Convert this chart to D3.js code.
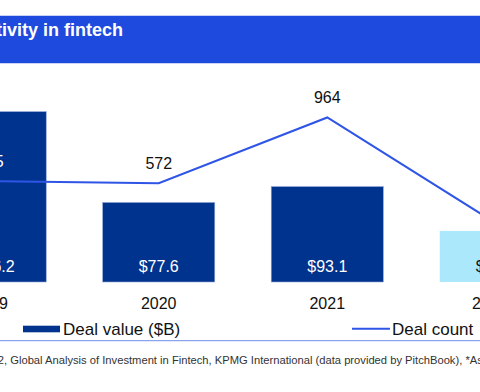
<!DOCTYPE html>
<html>
<head>
<meta charset="utf-8">
<script src="https://cdn.jsdelivr.net/npm/d3@7"></script>
<style>
  body { margin: 0; background: #fff; }
  svg { display: block; font-family: "Liberation Sans", Arial, sans-serif; }
</style>
</head>
<body>
<svg width="480" height="392"></svg>
<script>
"use strict";

const years = ["2019", "2020", "2021", "2022"];
const dealValue = [166.2, 77.6, 93.1, 49.8];
const dealCount = [585, 572, 964, 335];
const valueLabels = ["$166.2", "$77.6", "$93.1", "$49.8"];

const title = "Deal activity in fintech";
const sourcePrefix = "Source: Pulse of Fintech H2'22";
const sourceText = ", Global Analysis of Investment in Fintech, KPMG International (data provided by PitchBook), *As of 31 December 2022.";

const svg = d3.select("svg");
const width = +svg.attr("width");

const navy = "#00338d";
const lineBlue = "#2f55e6";

// header band
svg.append("rect")
  .attr("x", 0).attr("y", 15)
  .attr("width", width).attr("height", 49)
  .attr("fill", "#c9d4f5");
svg.append("rect")
  .attr("x", 0).attr("y", 16)
  .attr("width", width).attr("height", 47)
  .attr("fill", "#1e4bdd");
svg.append("text")
  .attr("x", 123).attr("y", 36)
  .attr("text-anchor", "end")
  .attr("fill", "#fff")
  .attr("font-weight", "bold")
  .attr("font-size", 18)
  .text(title);

// x positions: band centres 168.5 px apart, 2020 centred at 159
const xScale = d3.scaleBand()
  .domain(years)
  .range([-94, 580])
  .paddingInner(0.335)
  .paddingOuter(0.167);

const yBar = d3.scaleLinear().domain([0, 200]).range([282, 77]);
const yLine = d3.scaleLinear().domain([0, 1000]).range([279.4, 111.4]);

const g = svg.append("g");

g.selectAll("rect.bar")
  .data(years)
  .enter()
  .append("rect")
  .attr("class", "bar")
  .attr("x", d => xScale(d))
  .attr("y", (d, i) => yBar(dealValue[i]))
  .attr("width", xScale.bandwidth())
  .attr("height", (d, i) => yBar(0) - yBar(dealValue[i]))
  .attr("fill", (d, i) => i === 3 ? "#abe8fc" : navy)
  .attr("stroke", (d, i) => i === 3 ? "none" : "#8fa6d6")
  .attr("stroke-width", 0.6);

g.selectAll("text.val")
  .data(years)
  .enter()
  .append("text")
  .attr("class", "val")
  .attr("x", d => xScale(d) + xScale.bandwidth() / 2)
  .attr("y", 271.5)
  .attr("text-anchor", "middle")
  .attr("font-size", 16)
  .attr("fill", (d, i) => i === 3 ? "#111" : "#fff")
  .text((d, i) => valueLabels[i]);

const cx = d => xScale(d) + xScale.bandwidth() / 2;

const line = d3.line()
  .x(d => cx(d))
  .y((d, i) => yLine(dealCount[i]));

g.append("path")
  .datum(years)
  .attr("d", line)
  .attr("fill", "none")
  .attr("stroke", lineBlue)
  .attr("stroke-width", 2);

g.selectAll("text.cnt")
  .data(years)
  .enter()
  .append("text")
  .attr("class", "cnt")
  .attr("x", cx)
  .attr("y", (d, i) => yLine(dealCount[i]) - 14.5)
  .attr("text-anchor", "middle")
  .attr("font-size", 16)
  .attr("fill", (d, i) => i === 0 ? "#fff" : "#111")
  .text((d, i) => dealCount[i]);

// x axis labels
g.selectAll("text.year")
  .data(years)
  .enter()
  .append("text")
  .attr("class", "year")
  .attr("x", (d, i) => cx(d) - (i === 3 ? 6 : 0))
  .attr("y", 309)
  .attr("text-anchor", "middle")
  .attr("font-size", 16)
  .attr("fill", "#111")
  .text(d => d);

// legend
const legend = svg.append("g");
legend.append("rect")
  .attr("x", 23).attr("y", 325.7)
  .attr("width", 37).attr("height", 6.6)
  .attr("fill", navy);
legend.append("text")
  .attr("x", 63).attr("y", 335)
  .attr("font-size", 17)
  .attr("fill", "#111")
  .text("Deal value ($B)");
legend.append("line")
  .attr("x1", 352).attr("x2", 390)
  .attr("y1", 328.7).attr("y2", 328.7)
  .attr("stroke", lineBlue)
  .attr("stroke-width", 2);
legend.append("text")
  .attr("x", 392).attr("y", 335)
  .attr("font-size", 17)
  .attr("fill", "#111")
  .text("Deal count");

// separator
svg.append("line")
  .attr("x1", 0).attr("x2", width)
  .attr("y1", 340.7).attr("y2", 340.7)
  .attr("stroke", "#6f8ee8")
  .attr("stroke-width", 1);

// source footer
svg.append("text")
  .attr("x", 4).attr("y", 364)
  .attr("text-anchor", "end")
  .attr("font-size", 11.2)
  .attr("fill", "#333")
  .text(sourcePrefix);
svg.append("text")
  .attr("x", 4).attr("y", 364)
  .attr("font-size", 11.2)
  .attr("fill", "#333")
  .text(sourceText);
</script>
</body>
</html>
